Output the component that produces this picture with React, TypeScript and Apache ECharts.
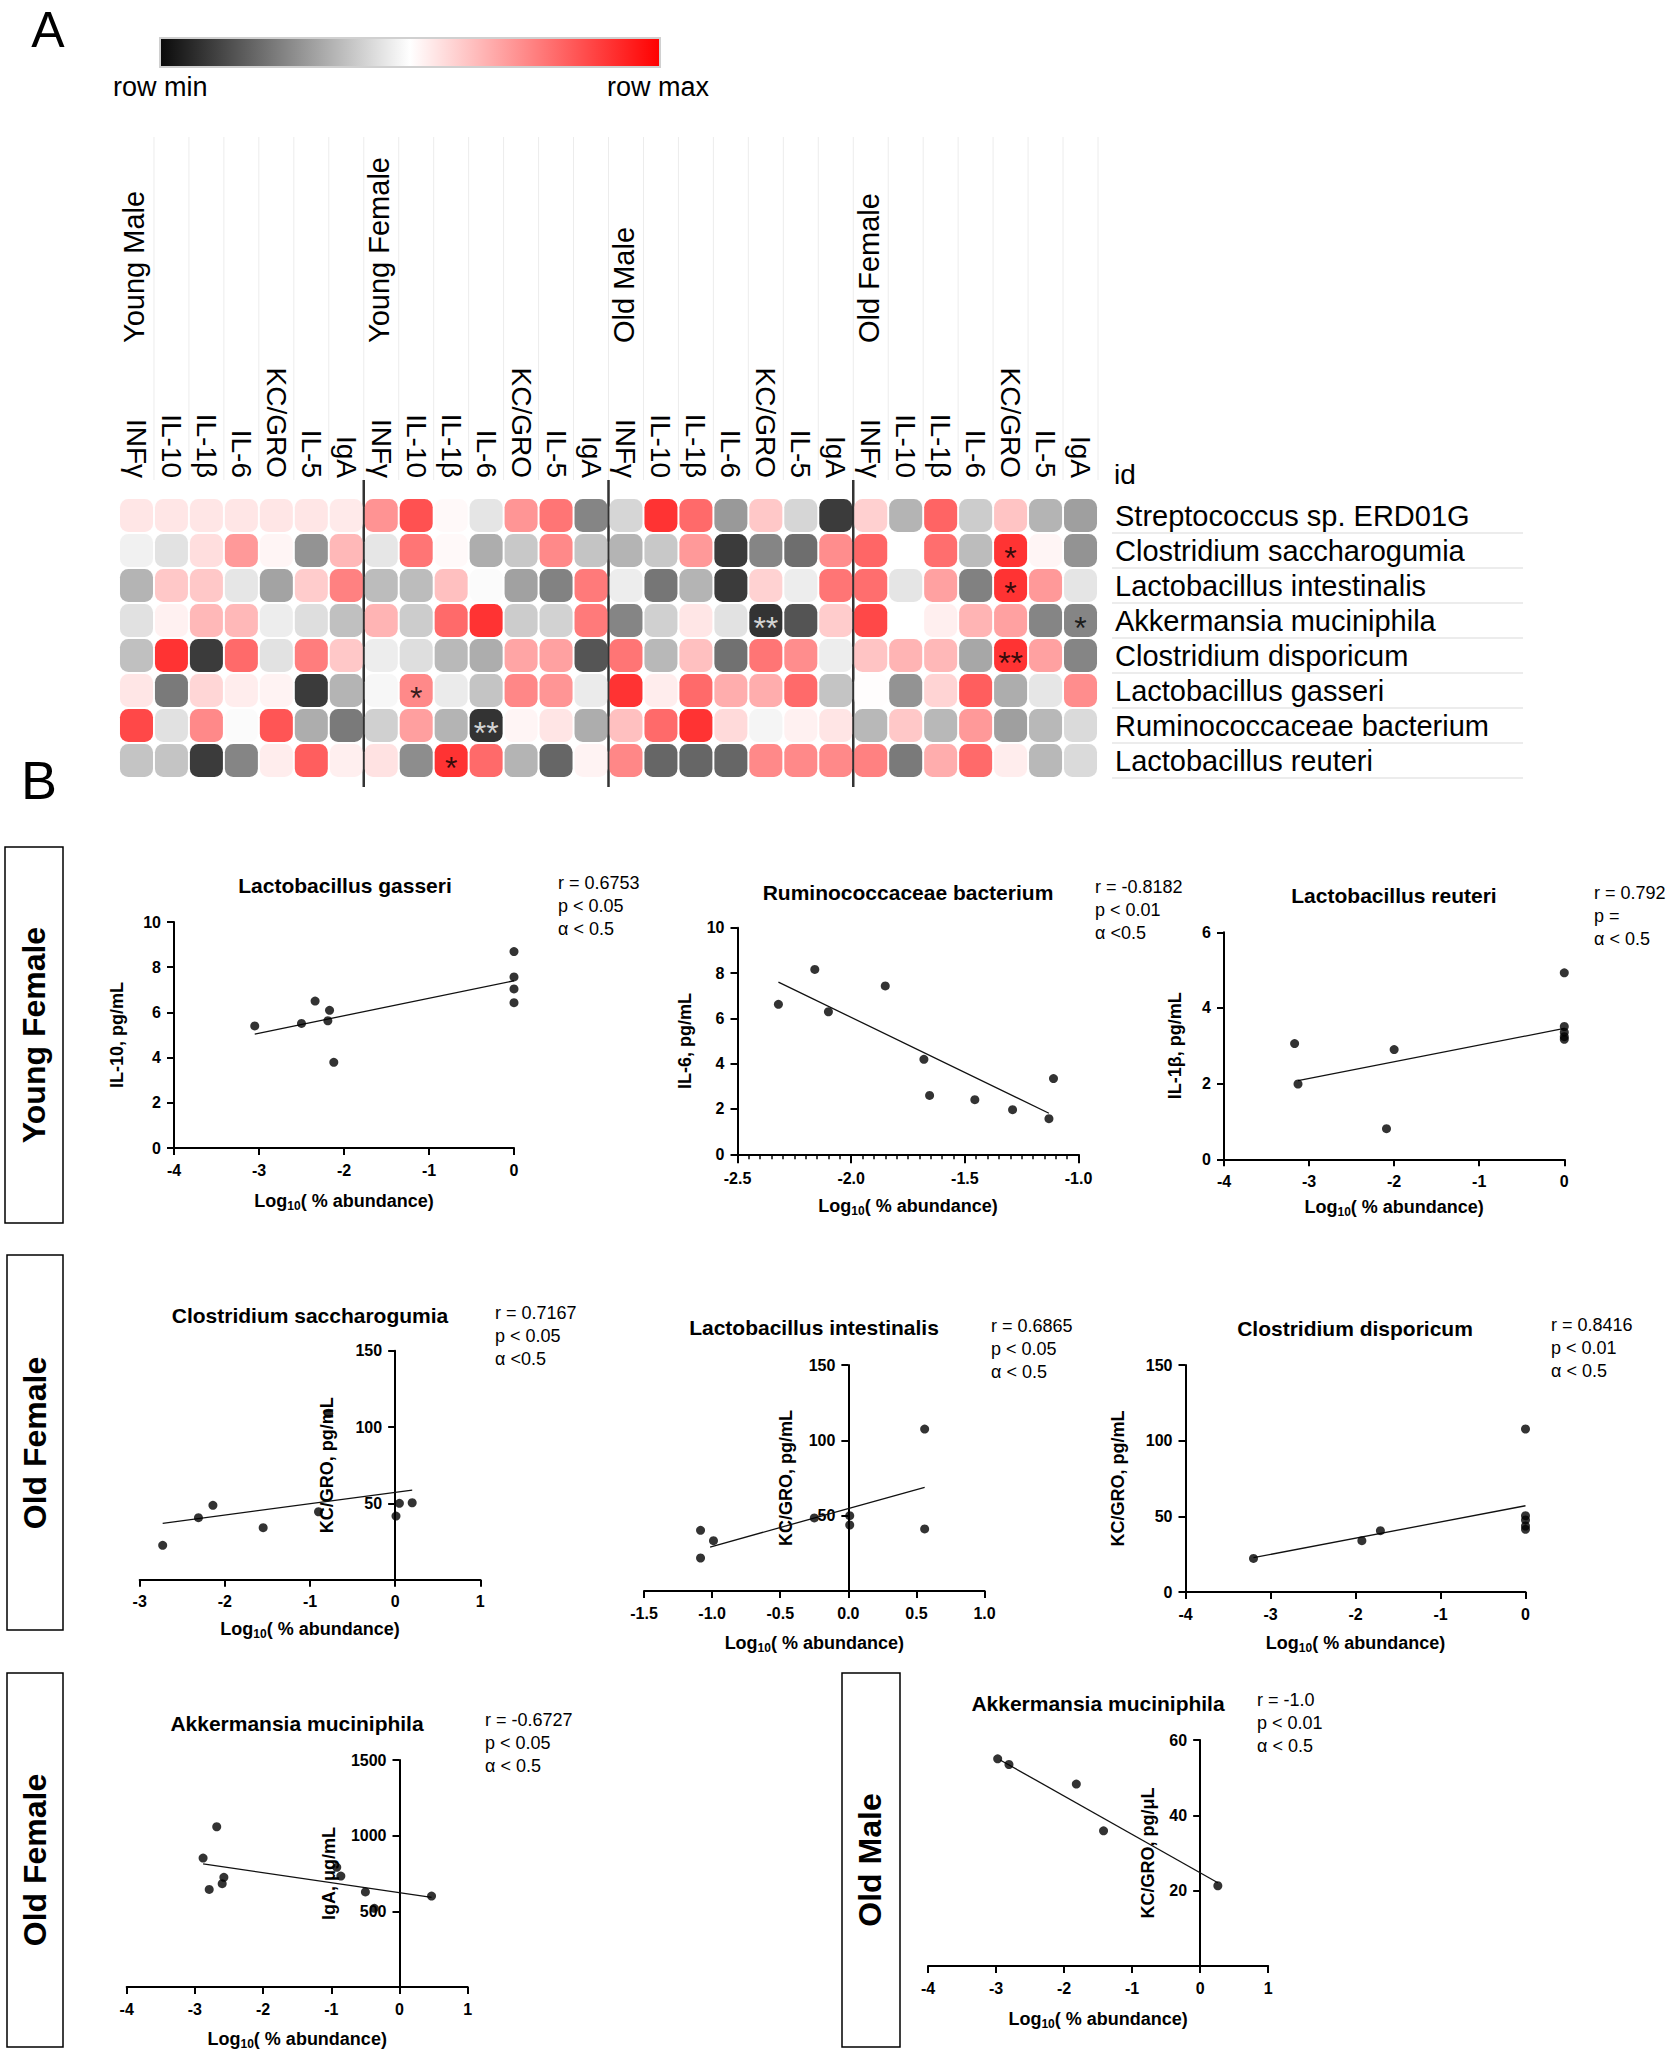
import React, { useEffect, useRef } from 'react';
import * as echarts from 'echarts';

const FONT = '"Liberation Sans", Arial, Helvetica, sans-serif';

// ---------- Panel A data ----------
const groups = ['Young Male', 'Young Female', 'Old Male', 'Old Female'];
const cytokines = ['INFγ', 'IL-10', 'IL-1β', 'IL-6', 'KC/GRO', 'IL-5', 'IgA'];
const rowNames = [
  'Streptococcus sp. ERD01G',
  'Clostridium saccharogumia',
  'Lactobacillus intestinalis',
  'Akkermansia muciniphila',
  'Clostridium disporicum',
  'Lactobacillus gasseri',
  'Ruminococcaceae bacterium',
  'Lactobacillus reuteri',
];
// row-scaled values: -1 = row min (black), 0 = mid (white), 1 = row max (red)
const streptococcus = [0.12, 0.12, 0.12, 0.12, 0.12, 0.12, 0.1, 0.53, 0.85, 0.03, -0.13, 0.52, 0.68, -0.6, -0.2, 1.0, 0.73, -0.5, 0.27, -0.2, -0.96, 0.23, -0.37, 0.76, -0.25, 0.29, -0.37, -0.47];
const saccharogumia = [-0.07, -0.14, 0.16, 0.5, 0.05, -0.53, 0.35, -0.12, 0.68, 0.03, -0.4, -0.27, 0.58, -0.29, -0.37, -0.27, 0.5, -0.96, -0.6, -0.71, 0.56, 0.75, 0, 0.71, -0.33, 1.0, 0.05, -0.53];
const intestinalis = [-0.37, 0.27, 0.27, -0.12, -0.45, 0.25, 0.62, -0.33, -0.33, 0.31, -0.02, -0.46, -0.61, 0.65, -0.09, -0.67, -0.37, -0.96, 0.22, -0.09, 0.68, 0.71, -0.13, 0.46, -0.62, 1.0, 0.5, -0.13];
const akkermansia = [-0.15, 0.07, 0.35, 0.35, -0.09, -0.16, -0.31, 0.37, -0.25, 0.73, 1.0, -0.25, -0.22, 0.65, -0.6, -0.23, 0.12, -0.14, -1.0, -0.84, 0.25, 0.9, 0, 0.08, 0.37, 0.46, -0.6, -0.6];
const disporicum = [-0.31, 1.0, -0.96, 0.73, -0.14, 0.64, 0.27, -0.09, -0.16, -0.34, -0.4, 0.44, 0.46, -0.83, 0.68, -0.35, 0.31, -0.7, 0.68, 0.56, -0.09, 0.29, 0.37, 0.35, -0.43, 1.0, 0.46, -0.6];
const gasseri = [0.12, -0.65, 0.2, 0.09, 0.06, -0.96, -0.37, -0.04, 0.58, -0.1, -0.29, 0.59, 0.52, -0.1, 1.0, 0.09, 0.73, 0.4, 0.4, 0.73, -0.29, 0.01, -0.53, 0.21, 0.79, -0.4, -0.12, 0.56];
const ruminococcaceae = [0.9, -0.15, 0.58, -0.02, 0.83, -0.4, -0.65, -0.23, 0.47, -0.37, -1.0, 0.05, 0.13, -0.4, 0.31, 0.73, 1.0, 0.18, -0.05, 0.07, 0.13, -0.35, 0.27, -0.35, 0.5, -0.47, -0.35, -0.18];
const reuteri = [-0.29, -0.29, -0.96, -0.6, 0.09, 0.79, 0.08, 0.14, -0.56, 1.0, 0.73, -0.37, -0.75, 0.06, 0.59, -0.75, -0.75, -0.75, 0.58, 0.58, 0.58, 0.62, -0.65, 0.4, 0.73, 0.09, -0.35, -0.18];
const heatRows = [streptococcus, saccharogumia, intestinalis, akkermansia, disporicum, gasseri, ruminococcaceae, reuteri];
const markers = [
  { col: 25, row: 1, text: '*' },
  { col: 25, row: 2, text: '*' },
  { col: 18, row: 3, text: '**' },
  { col: 27, row: 3, text: '*' },
  { col: 25, row: 4, text: '**' },
  { col: 8, row: 5, text: '*' },
  { col: 10, row: 6, text: '**' },
  { col: 9, row: 7, text: '*' },
];

// ---------- Panel B data ----------
const gasseriPts = [[-3.05, 5.4], [-2.5, 5.51], [-2.34, 6.5], [-2.17, 6.09], [-2.19, 5.63], [-2.12, 3.79], [0, 8.69], [0, 7.57], [0, 7.04], [0, 6.43]];
const gasseriFit = [[-3.05, 5.04], [0, 7.4]];
const ruminoPts = [[-2.32, 6.62], [-2.16, 8.16], [-2.1, 6.29], [-1.85, 7.43], [-1.68, 4.19], [-1.655, 2.6], [-1.456, 2.41], [-1.29, 1.97], [-1.13, 1.57], [-1.11, 3.34]];
const ruminoFit = [[-2.32, 7.6], [-1.13, 1.81]];
const reuteriPts = [[-3.17, 3.06], [-3.13, 1.99], [-2.0, 2.9], [-2.09, 0.81], [0, 4.93], [0, 3.51], [0, 3.36], [0, 3.24], [0, 3.17]];
const reuteriFit = [[-3.13, 2.08], [0, 3.46]];
const saccharoPts = [[-2.73, 22.5], [-2.31, 40.6], [-2.14, 48.7], [-1.55, 34.1], [-0.9, 44.5], [-0.78, 109], [0.01, 41.7], [0.05, 50.0], [0.2, 50.4]];
const saccharoFit = [[-2.73, 36.9], [0.2, 58.7]];
const intestPts = [[-1.085, 40.3], [-0.99, 33.4], [-1.085, 21.9], [-0.25, 48.5], [0.01, 50.0], [0.01, 43.8], [0.56, 107.5], [0.56, 41.2]];
const intestFit = [[-1.015, 29.2], [0.56, 68.8]];
const disporPts = [[-3.2, 22.2], [-1.925, 33.9], [-1.707, 40.5], [0, 107.7], [0, 50.4], [0, 47.6], [0, 43.6], [0, 41.4]];
const disporFit = [[-3.2, 22.7], [0, 57.0]];
const akkFemalePts = [[-2.68, 1059], [-2.88, 852], [-2.79, 645], [-2.575, 725], [-2.6, 683], [-0.92, 791], [-0.86, 733], [-0.5, 628], [-0.37, 520], [0.47, 601]];
const akkFemaleFit = [[-2.88, 813], [0.47, 592]];
const akkMalePts = [[-2.976, 55.0], [-2.81, 53.5], [-1.82, 48.3], [-1.42, 35.9], [0.26, 21.3]];
const akkMaleFit = [[-2.94, 54.7], [0.26, 22.1]];

const plotTitles = ['Lactobacillus gasseri', 'Ruminococcaceae bacterium', 'Lactobacillus reuteri', 'Clostridium saccharogumia', 'Lactobacillus intestinalis', 'Clostridium disporicum', 'Akkermansia muciniphila', 'Akkermansia muciniphila'];
const plotStats = [
  ['r = 0.6753', 'p < 0.05', 'α < 0.5'],
  ['r = -0.8182', 'p < 0.01', 'α <0.5'],
  ['r = 0.792', 'p =', 'α < 0.5'],
  ['r = 0.7167', 'p < 0.05', 'α <0.5'],
  ['r = 0.6865', 'p < 0.05', 'α < 0.5'],
  ['r = 0.8416', 'p < 0.01', 'α < 0.5'],
  ['r = -0.6727', 'p < 0.05', 'α < 0.5'],
  ['r = -1.0', 'p < 0.01', 'α < 0.5'],
];
const yNames = ['IL-10, pg/mL', 'IL-6, pg/mL', 'IL-1β, pg/mL', 'KC/GRO, pg/mL', 'KC/GRO, pg/mL', 'KC/GRO, pg/mL', 'IgA, μg/mL', 'KC/GRO, pg/μL'];
const boxLabels = ['Young Female', 'Old Female', 'Old Female', 'Old Male'];

// layout (positions/sizes only)
const plots = [
  { pts: gasseriPts, fit: gasseriFit, grid: [174, 922, 340, 226], x: [-4, 0, 1], y: [0, 10, 2], atZero: false, yGap: 48, xGap: 42, t: [345, 885], s: [558, 883] },
  { pts: ruminoPts, fit: ruminoFit, grid: [737.5, 927.7, 341, 226.6], x: [-2.5, -1.0, 0.5], y: [0, 10, 2], atZero: false, yGap: 44, xGap: 41, t: [908, 892], s: [1095, 887], minor: true },
  { pts: reuteriPts, fit: reuteriFit, grid: [1224, 932.3, 340.3, 227], x: [-4, 0, 1], y: [0, 6, 2], atZero: false, yGap: 40, xGap: 37, t: [1394, 895], s: [1594, 893] },
  { pts: saccharoPts, fit: saccharoFit, grid: [139.7, 1350.7, 340.6, 229], x: [-3, 1, 1], y: [0, 150, 50], atZero: true, yGap: 59, xGap: 38, t: [310, 1315], s: [495, 1313] },
  { pts: intestPts, fit: intestFit, grid: [644, 1365, 340.6, 226], x: [-1.5, 1.0, 0.5], y: [0, 150, 50], atZero: true, yGap: 53, xGap: 41, t: [814, 1327], s: [991, 1326] },
  { pts: disporPts, fit: disporFit, grid: [1185.5, 1365, 340, 227], x: [-4, 0, 1], y: [0, 150, 50], atZero: false, yGap: 59, xGap: 40, t: [1355, 1328], s: [1551, 1325] },
  { pts: akkFemalePts, fit: akkFemaleFit, grid: [126.7, 1760, 341, 227], x: [-4, 1, 1], y: [0, 1500, 500], atZero: true, yGap: 62, xGap: 41, t: [297, 1723], s: [485, 1720] },
  { pts: akkMalePts, fit: akkMaleFit, grid: [928, 1740, 340.2, 226], x: [-4, 1, 1], y: [0, 60, 20], atZero: true, yGap: 43, xGap: 42, t: [1098, 1703], s: [1257, 1700] },
];
const boxes = [
  { r: [5, 847, 58, 376], c: [34, 1035] },
  { r: [7, 1255, 56, 375], c: [35, 1443] },
  { r: [7, 1673, 56, 374], c: [35, 1860] },
  { r: [842, 1673, 58, 374], c: [870, 1860] },
];

type TOpt = { size: number; weight?: string; align?: string; va?: string; rot?: number; lh?: number; fill?: string };
function txt(text: string, x: number, y: number, o: TOpt) {
  return {
    type: 'text',
    x,
    y,
    rotation: o.rot || 0,
    silent: true,
    style: {
      text,
      fill: o.fill || '#000',
      fontSize: o.size,
      fontWeight: o.weight || 'normal',
      fontFamily: FONT,
      align: o.align || 'left',
      verticalAlign: o.va || 'middle',
      textAlign: o.align || 'left',
      textVerticalAlign: o.va || 'middle',
      lineHeight: o.lh,
    },
  };
}
function line(x1: number, y1: number, x2: number, y2: number, stroke: string, lw: number) {
  return { type: 'line', silent: true, shape: { x1, y1, x2, y2 }, style: { stroke, lineWidth: lw } };
}

function buildOption() {
  const HM = { left: 119, top: 498, width: 979, height: 280 };
  const colW = HM.width / 28;
  const colLabels = groups.flatMap(() => cytokines);

  const heatData: number[][] = [];
  heatRows.forEach((row, r) => row.forEach((v, c) => heatData.push([c, r, v])));

  const grids: any[] = [HM];
  const xAxes: any[] = [
    {
      gridIndex: 0, type: 'category', position: 'top', data: colLabels.map((_, i) => String(i)),
      axisLine: { show: false }, axisTick: { show: false }, splitLine: { show: false },
      axisLabel: { interval: 0, rotate: 90, margin: 20, fontSize: 28, color: '#000', fontFamily: FONT, formatter: (_v: string, i: number) => colLabels[i] },
    },
  ];
  const yAxes: any[] = [
    {
      gridIndex: 0, type: 'category', position: 'right', inverse: true, data: rowNames,
      axisLine: { show: false }, axisTick: { show: false }, splitLine: { show: false },
      axisLabel: { interval: 0, margin: 17, fontSize: 29, color: '#000', fontFamily: FONT },
    },
  ];
  const series: any[] = [
    { type: 'scatter', xAxisIndex: 0, yAxisIndex: 0, symbol: 'roundRect', symbolSize: 33, data: heatData, z: 2 },
    {
      type: 'scatter', xAxisIndex: 0, yAxisIndex: 0, symbolSize: 1, itemStyle: { color: 'rgba(0,0,0,0)' }, z: 3,
      data: markers.map((m) => ({
        value: [m.col, m.row], name: m.text,
        label: { color: heatRows[m.row][m.col] < -0.8 ? '#fff' : '#000' },
      })),
      label: { show: true, position: 'inside', formatter: '{b}', fontSize: 32, fontFamily: FONT, offset: [0, 7] },
    },
  ];

  const axisStyle = { color: '#000', width: 2 };
  const lblStyle = { color: '#000', fontSize: 16, fontWeight: 'bold', fontFamily: FONT };

  plots.forEach((p, i) => {
    const gi = i + 1;
    grids.push({ left: p.grid[0], top: p.grid[1], width: p.grid[2], height: p.grid[3] });
    const dec = p.x[2] < 1 ? 1 : 0;
    // when the y axis crosses at x = 0, shift the whole axis (line, ticks, labels, name) there
    const yOffset = p.atZero ? -((0 - p.x[0]) / (p.x[1] - p.x[0])) * p.grid[2] : 0;
    xAxes.push({
      gridIndex: gi, type: 'value', min: p.x[0], max: p.x[1], interval: p.x[2],
      axisLine: { show: true, onZero: false, lineStyle: axisStyle },
      axisTick: { show: true, length: p.minor ? 9 : 7, lineStyle: axisStyle },
      minorTick: p.minor ? { show: true, splitNumber: 10, length: 5, lineStyle: { color: '#000', width: 1.5 } } : { show: false },
      splitLine: { show: false },
      axisLabel: { ...lblStyle, margin: p.minor ? 16 : 14, formatter: (v: number) => v.toFixed(dec) },
      name: 'Log{s|10}( % abundance)', nameLocation: 'middle', nameGap: p.xGap,
      nameTextStyle: { color: '#000', fontSize: 18, fontWeight: 'bold', fontFamily: FONT, rich: { s: { fontSize: 12, fontWeight: 'bold', fontFamily: FONT, color: '#000', padding: [10, 0, 0, 0] } } },
    });
    yAxes.push({
      gridIndex: gi, type: 'value', min: p.y[0], max: p.y[1], interval: p.y[2], offset: yOffset,
      axisLine: { show: true, onZero: false, lineStyle: axisStyle },
      axisTick: { show: true, length: 7, lineStyle: axisStyle },
      splitLine: { show: false },
      axisLabel: { ...lblStyle, margin: 13, formatter: (v: number) => (p.atZero && v === 0 ? '' : String(v)) },
      name: yNames[i], nameLocation: 'middle', nameGap: p.yGap,
      nameTextStyle: { color: '#000', fontSize: 18, fontWeight: 'bold', fontFamily: FONT },
    });
    series.push({
      type: 'line', xAxisIndex: gi, yAxisIndex: gi, data: p.fit, symbol: 'none',
      lineStyle: { color: '#111', width: 1.3 }, z: 2, silent: true,
    });
    series.push({
      type: 'scatter', xAxisIndex: gi, yAxisIndex: gi, data: p.pts, symbolSize: 9,
      itemStyle: { color: '#000' }, z: 3,
    });
  });

  const elements: any[] = [];
  // colour bar
  elements.push({
    type: 'rect', silent: true, shape: { x: 160, y: 38, width: 500, height: 29 },
    style: {
      fill: new echarts.graphic.LinearGradient(0, 0, 1, 0, [
        { offset: 0, color: '#0a0a0a' },
        { offset: 0.5, color: '#ffffff' },
        { offset: 1, color: '#ff0000' },
      ]),
      stroke: '#d0d0d0', lineWidth: 2,
    },
  });
  elements.push(txt('row min', 113, 87, { size: 27 }));
  elements.push(txt('row max', 607, 87, { size: 27 }));
  elements.push(txt('A', 48, 5, { size: 50, align: 'center', va: 'top' }));
  elements.push(txt('B', 39, 780, { size: 54, align: 'center' }));
  elements.push(txt('id', 1114, 474, { size: 28 }));
  // header faint column lines
  for (let k = 1; k <= 28; k++) {
    const x = HM.left + colW * k;
    elements.push(line(x, 137, x, 480, '#ececec', 1));
  }
  // group labels
  groups.forEach((g, gi) => {
    const cx = HM.left + colW * (gi * 7 + 0.5) - 2;
    elements.push(txt(g, cx, 343, { size: 29, rot: Math.PI / 2 }));
  });
  // group separators
  for (let gi = 1; gi < 4; gi++) {
    const x = HM.left + colW * gi * 7;
    elements.push(line(x, 480, x, 787, '#333', 2.5));
  }
  // row label underlines
  for (let r = 0; r < 8; r++) {
    const y = HM.top + 35 * (r + 1);
    elements.push(line(1112, y, 1523, y, '#e6e6e6', 1.5));
  }
  // panel B boxes
  boxes.forEach((b, i) => {
    elements.push({ type: 'rect', silent: true, shape: { x: b.r[0], y: b.r[1], width: b.r[2], height: b.r[3] }, style: { fill: 'rgba(0,0,0,0)', stroke: '#000', lineWidth: 1.5 } });
    elements.push(txt(boxLabels[i], b.c[0], b.c[1], { size: 32, weight: 'bold', align: 'center', rot: Math.PI / 2 }));
  });
  // plot titles and stats
  plots.forEach((p, i) => {
    elements.push(txt(plotTitles[i], p.t[0], p.t[1], { size: 21, weight: 'bold', align: 'center' }));
    elements.push(txt(plotStats[i].join('\n'), p.s[0], p.s[1] - 11.5, { size: 18, va: 'top', lh: 23 }));
  });

  return {
    animation: false,
    backgroundColor: '#fff',
    textStyle: { fontFamily: FONT },
    grid: grids,
    xAxis: xAxes,
    yAxis: yAxes,
    visualMap: {
      type: 'continuous', show: false, min: -1, max: 1, dimension: 2, seriesIndex: 0,
      inRange: { color: ['#000000', '#ffffff', '#ff0000'] },
    },
    series,
    graphic: { elements },
  };
}

export default function App() {
  const ref = useRef<HTMLDivElement>(null);
  useEffect(() => {
    if (!ref.current) return;
    const chart = echarts.init(ref.current, null, { renderer: 'svg', width: 1671, height: 2056 });
    chart.setOption(buildOption() as any);
    return () => chart.dispose();
  }, []);
  return (
    <div
      ref={ref}
      style={{ position: 'absolute', left: 0, top: 0, width: 1671, height: 2056, background: '#fff' }}
    />
  );
}
